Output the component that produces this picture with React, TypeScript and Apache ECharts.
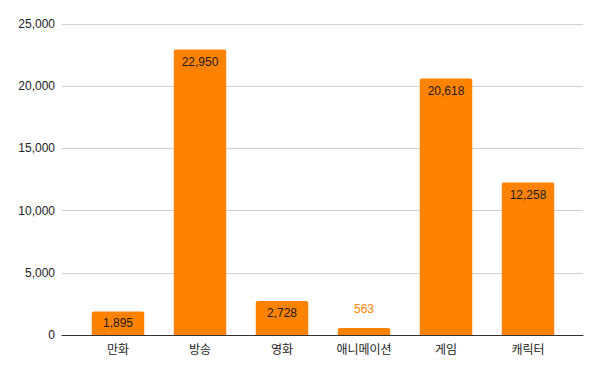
import React, { useEffect, useRef } from "react";
import * as echarts from "echarts";

const categories = ["만화", "방송", "영화", "애니메이션", "게임", "캐릭터"];
const values = [1895, 22950, 2728, 563, 20618, 12258];
const yTicks = [0, 5000, 10000, 15000, 20000, 25000];

const BAR = "#ff8300";
const FONT = "'Liberation Sans', Arial, 'Noto Sans CJK KR', sans-serif";

export default function App() {
  const ref = useRef<HTMLDivElement>(null);
  useEffect(() => {
    if (!ref.current) return;
    const chart = echarts.init(ref.current, undefined, { renderer: "svg" });
    const fmt = (v: number) => v.toLocaleString("en-US");
    const yMin = yTicks[0];
    const yMax = yTicks[yTicks.length - 1];
    chart.setOption({
      animation: false,
      textStyle: { fontFamily: FONT },
      grid: [
        { left: 54, right: 11, top: 16, bottom: 29 },
        { left: 69, right: 25, top: 16, bottom: 29 },
      ],
      xAxis: [
        {
          gridIndex: 0,
          type: "value",
          min: 0,
          max: 1,
          axisLabel: { show: false },
          axisTick: { show: false },
          splitLine: { show: false },
          axisLine: { show: true, onZero: false, lineStyle: { color: "#333", width: 1 } },
        },
        {
          gridIndex: 1,
          type: "category",
          data: categories,
          axisTick: { show: false },
          axisLine: { show: false },
          axisLabel: { color: "#222", fontSize: 12, margin: 9, fontFamily: FONT },
        },
      ],
      yAxis: [
        {
          gridIndex: 0,
          type: "value",
          min: yMin,
          max: yMax,
          interval: 5000,
          axisLine: { show: false },
          axisTick: { show: false },
          splitLine: { lineStyle: { color: "#d0d0d0", width: 1 } },
          axisLabel: {
            color: "#222",
            fontSize: 12,
            margin: 7,
            fontFamily: FONT,
            formatter: (v: number) => fmt(v),
          },
        },
        {
          gridIndex: 1,
          type: "value",
          min: yMin,
          max: yMax,
          interval: 5000,
          show: false,
          splitLine: { show: false },
        },
      ],
      series: [
        {
          type: "bar",
          xAxisIndex: 1,
          yAxisIndex: 1,
          barWidth: "64%",
          z: 1,
          data: values.map((v) => {
            const small = v < 1500;
            return {
              value: v,
              label: small
                ? { show: true, position: "top", distance: 13, color: BAR }
                : { show: true, position: "insideTop", distance: 6, color: "#1a1a1a" },
            };
          }),
          itemStyle: { color: BAR, borderRadius: [2, 2, 0, 0] },
          label: {
            fontSize: 12,
            fontFamily: FONT,
            formatter: (p: any) => fmt(p.value),
          },
        },
      ],
    });
    return () => chart.dispose();
  }, []);
  return <div ref={ref} style={{ width: 586, height: 356 }} />;
}
